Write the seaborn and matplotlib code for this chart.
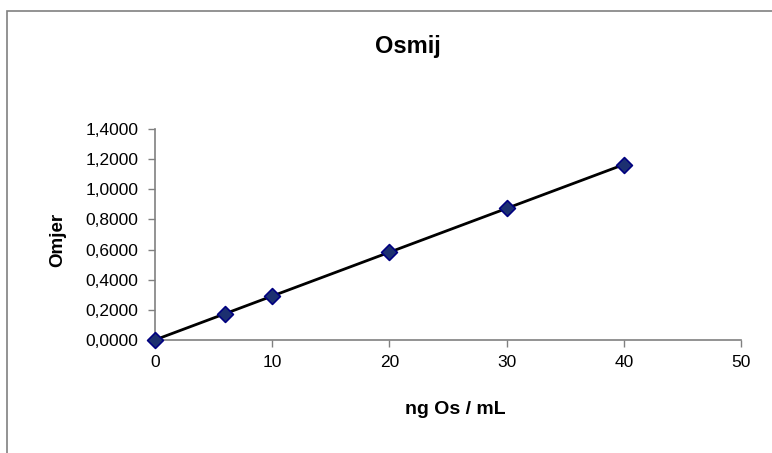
import matplotlib
matplotlib.use("Agg")
import matplotlib.pyplot as plt
import matplotlib.patches as mpatches
from matplotlib.ticker import FuncFormatter, MultipleLocator
import seaborn as sns
import pandas as pd

sns.set_style("white")
plt.rcParams['font.family'] = ['Liberation Sans', 'DejaVu Sans']
plt.rcParams['text.color'] = 'black'

conc = [0, 6, 10, 20, 30, 40]
ratio = [0.0, 0.173, 0.293, 0.584, 0.876, 1.161]
title = "Osmij"
xlabel = "ng Os / mL"
ylabel = "Omjer"

df = pd.DataFrame({"x": conc, "y": ratio})

fig = plt.figure(figsize=(7.72, 4.53), dpi=100)
ax = fig.add_axes([155/772, 1-340/453, (741-155)/772, (340-129)/453])

sns.regplot(data=df, x="x", y="y", ax=ax, ci=None, scatter=False,
            line_kws=dict(color="black", lw=2))
sns.scatterplot(data=df, x="x", y="y", ax=ax, marker="D", s=65,
                color="#1C3070", edgecolor="#000080", linewidth=1.2, zorder=5, clip_on=False)

ax.set_xlim(0, 50)
ax.set_ylim(0, 1.4)
ax.xaxis.set_major_locator(MultipleLocator(10))
ax.yaxis.set_major_locator(MultipleLocator(0.2))
ax.yaxis.set_major_formatter(FuncFormatter(lambda v, p: f"{v:.4f}".replace(".", ",")))
for s in ["top", "right"]:
    ax.spines[s].set_visible(False)
for s in ["left", "bottom"]:
    ax.spines[s].set_color("#808080")
    ax.spines[s].set_linewidth(1.2)
ax.tick_params(axis="both", which="major", direction="out", length=5, width=1,
               color="#808080", labelsize=12.5, labelcolor="black", bottom=True, left=True)
ax.tick_params(axis="y", pad=7)
ax.tick_params(axis="x", pad=6)
ax.set_xlabel("")
ax.set_ylabel("")

fig.text(408/772, 1-47/453, title, ha="center", va="center", fontsize=17, fontweight="bold", color="black")
fig.text(455/772, 1-409/453, xlabel, ha="center", va="center", fontsize=14, fontweight="bold", color="black")
fig.text(58/772, 1-240/453, ylabel, ha="center", va="center", fontsize=13.5, fontweight="bold", rotation=90, color="black")

rect = mpatches.Rectangle((7/772, -0.2), 1.2, 0.2 + (1-11/453), transform=fig.transFigure,
                          fill=False, edgecolor="#808080", lw=1.2)
fig.patches.append(rect)

fig.savefig("out.png", dpi=100)
